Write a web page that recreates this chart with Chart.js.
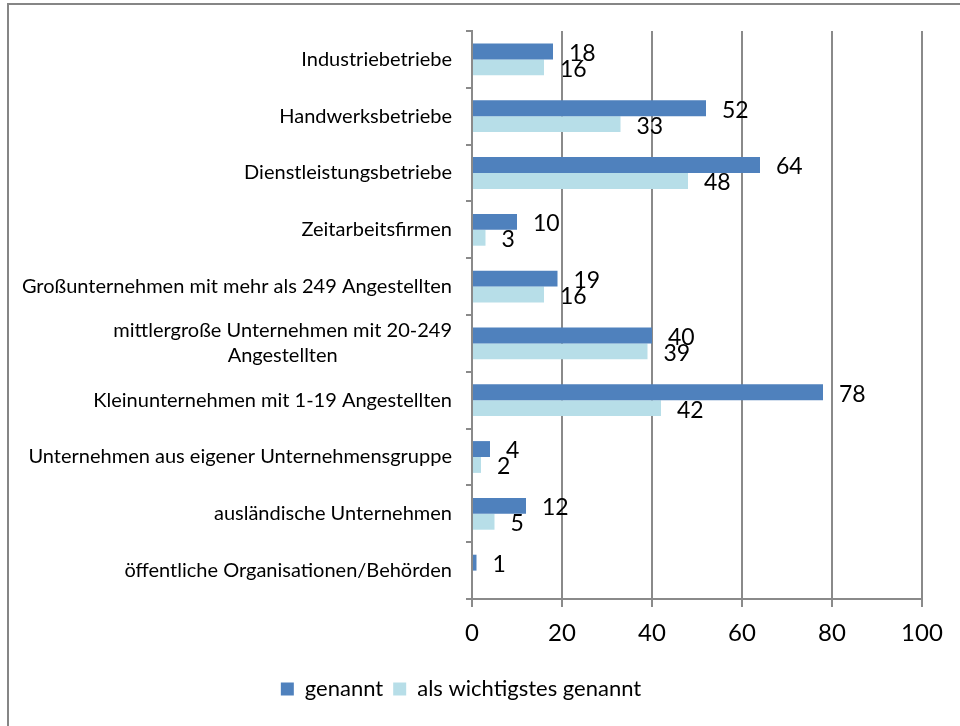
<!DOCTYPE html>
<html>
<head>
<meta charset="utf-8">
<script src="https://cdn.jsdelivr.net/npm/chart.js@4.4.1/dist/chart.umd.min.js"></script>
<style>
    html, body { margin: 0; padding: 0; background: #fff; }
    #wrap { width: 960px; height: 726px; }
</style>
</head>
<body>
<div id="wrap"><canvas id="chart" width="960" height="726"></canvas></div>
<script>
// Kategorien (von oben nach unten)
const categories = [
    'Industriebetriebe',
    'Handwerksbetriebe',
    'Dienstleistungsbetriebe',
    'Zeitarbeitsfirmen',
    'Großunternehmen mit mehr als 249 Angestellten',
    ['mittlergroße Unternehmen mit 20-249', 'Angestellten'],
    'Kleinunternehmen mit 1-19 Angestellten',
    'Unternehmen aus eigener Unternehmensgruppe',
    'ausländische Unternehmen',
    'öffentliche Organisationen/Behörden'
];

const genannt = [18, 52, 64, 10, 19, 40, 78, 4, 12, 1];
const wichtigstes = [16, 33, 48, 3, 16, 39, 42, 2, 5, 0];

const seriesNames = ['genannt', 'als wichtigstes genannt'];
const xTicks = [0, 20, 40, 60, 80, 100];

const FONT = 'Lato, "Open Sans", sans-serif';
const GRID = '#8a8a8a';

// Rahmen und Hintergrund
const framePlugin = {
    id: 'frame',
    beforeDraw: function(chart) {
        const ctx = chart.ctx;
        ctx.save();
        ctx.fillStyle = '#fff';
        ctx.fillRect(0, 0, chart.width, chart.height);
        ctx.strokeStyle = '#868686';
        ctx.lineWidth = 2;
        ctx.beginPath();
        ctx.moveTo(8, chart.height);
        ctx.lineTo(8, 4);
        ctx.lineTo(chart.width, 4);
        ctx.stroke();
        ctx.restore();
    }
};

// Kategorienbeschriftung (mehrzeilig zentriert, Block rechtsbündig)
const categoryLabelPlugin = {
    id: 'categoryLabels',
    afterDraw: function(chart) {
        const ctx = chart.ctx;
        const yScale = chart.scales.y;
        const right = chart.chartArea.left - 20;
        const lineH = 25;
        ctx.save();
        ctx.font = '20px ' + FONT;
        ctx.fillStyle = '#000';
        ctx.textBaseline = 'middle';
        categories.forEach(function(label, i) {
            const lines = Array.isArray(label) ? label : [label];
            const widths = lines.map(function(l) { return ctx.measureText(l).width; });
            const blockW = Math.max.apply(null, widths);
            const cx = right - blockW / 2;
            const y0 = yScale.getPixelForValue(i) - (lines.length - 1) * lineH / 2;
            ctx.textAlign = 'center';
            lines.forEach(function(l, j) {
                ctx.fillText(l, cx, y0 + j * lineH);
            });
        });
        ctx.restore();
    }
};

// Datenbeschriftungen rechts neben den Balken
const valueLabelPlugin = {
    id: 'valueLabels',
    afterDatasetsDraw: function(chart) {
        const ctx = chart.ctx;
        ctx.save();
        ctx.font = '23px ' + FONT;
        ctx.fillStyle = '#000';
        ctx.textAlign = 'left';
        ctx.textBaseline = 'middle';
        chart.data.datasets.forEach(function(ds, di) {
            const meta = chart.getDatasetMeta(di);
            meta.data.forEach(function(bar, i) {
                const v = ds.data[i];
                if (!v) return;
                ctx.fillText(String(v), bar.x + 16, bar.y + 2);
            });
        });
        ctx.restore();
    }
};

new Chart(document.getElementById('chart'), {
    type: 'bar',
    data: {
        labels: categories,
        datasets: [
            {
                label: seriesNames[0],
                data: genannt,
                backgroundColor: '#4f81bd',
                borderWidth: 0,
                barPercentage: 1.0,
                categoryPercentage: 0.56
            },
            {
                label: seriesNames[1],
                data: wichtigstes,
                backgroundColor: '#b7dee8',
                borderWidth: 0,
                barPercentage: 1.0,
                categoryPercentage: 0.56
            }
        ]
    },
    options: {
        indexAxis: 'y',
        responsive: false,
        animation: false,
        devicePixelRatio: 1,
        layout: {
            padding: { left: 0, top: 31, right: 38, bottom: 16 }
        },
        plugins: {
            legend: {
                position: 'bottom',
                labels: {
                    boxWidth: 13,
                    boxHeight: 13,
                    padding: 10,
                    color: '#000',
                    font: { family: FONT, size: 22 }
                }
            },
            tooltip: { enabled: false }
        },
        scales: {
            x: {
                min: 0,
                max: 100,
                afterBuildTicks: function(scale) {
                    scale.ticks = xTicks.map(function(v) { return { value: v }; });
                },
                afterFit: function(scale) {
                    scale.height = 69;
                },
                grid: {
                    color: GRID,
                    lineWidth: 2,
                    tickLength: 8
                },
                border: { display: true, color: GRID, width: 2 },
                ticks: {
                    color: '#000',
                    padding: 12,
                    font: { family: FONT, size: 24 }
                }
            },
            y: {
                afterFit: function(scale) {
                    scale.width = 472;
                },
                grid: {
                    offset: true,
                    drawOnChartArea: false,
                    color: GRID,
                    lineWidth: 2,
                    tickLength: 6
                },
                border: { display: true, color: GRID, width: 2 },
                ticks: { display: false }
            }
        }
    },
    plugins: [framePlugin, categoryLabelPlugin, valueLabelPlugin]
});
</script>
</body>
</html>
